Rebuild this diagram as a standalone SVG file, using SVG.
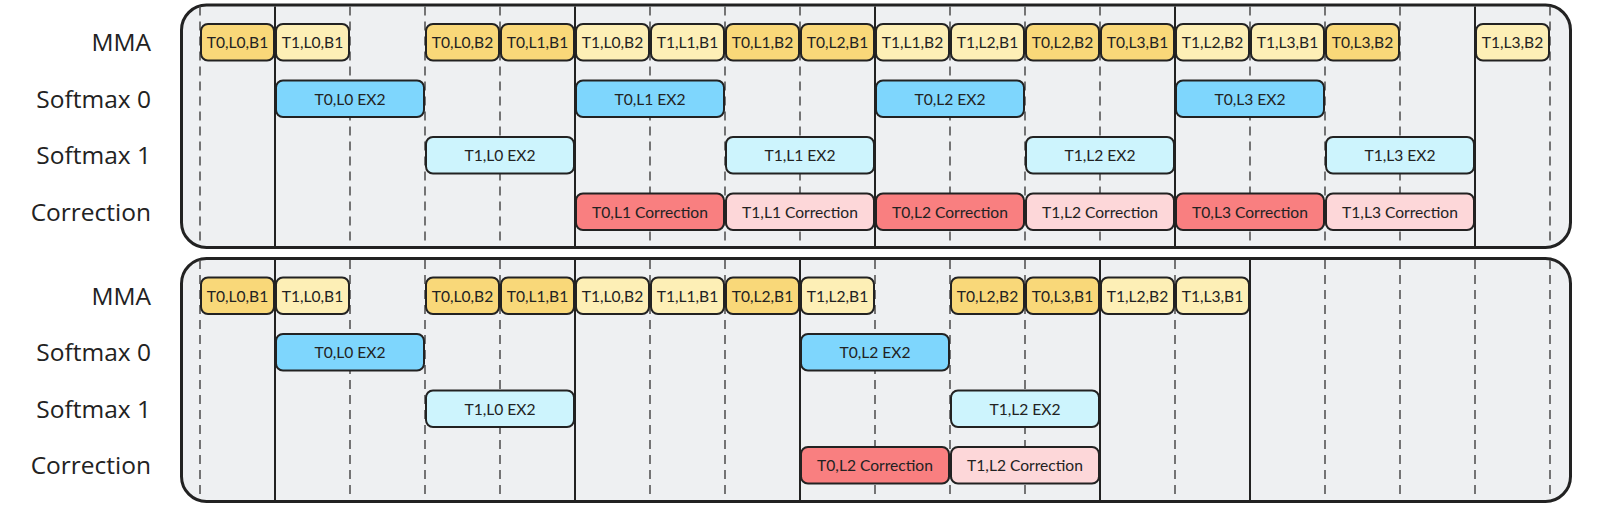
<svg xmlns="http://www.w3.org/2000/svg" width="1600" height="507" viewBox="0 0 1600 507">
<style>
.bg{fill:#ffffff}
.panel{fill:#EEF0F2;stroke:#222;stroke-width:3}
.dash{stroke:#555;stroke-width:1.6;stroke-dasharray:9 6}
.solid{stroke:#222;stroke-width:2}
.box{stroke:#222;stroke-width:2}
.m0{fill:#F9D879}.m1{fill:#FDEFB6}.s0{fill:#7ED6FD}.s1{fill:#CDF4FD}.c0{fill:#F97F80}.c1{fill:#FDD7D9}
.t{font-family:Lato,"Open Sans",sans-serif;font-size:15.6px;fill:#222;text-anchor:middle}
.lbl{font-family:"Open Sans",Lato,sans-serif;font-size:24.5px;fill:#222;text-anchor:end}
</style>
<rect class="bg" x="0" y="0" width="1600" height="507"/>
<g id="labels">
<text class="lbl" x="151" y="51">MMA</text>
<text class="lbl" x="151" y="107.5">Softmax 0</text>
<text class="lbl" x="151" y="164">Softmax 1</text>
<text class="lbl" x="151" y="220.5">Correction</text>
<text class="lbl" x="151" y="304.5">MMA</text>
<text class="lbl" x="151" y="361">Softmax 0</text>
<text class="lbl" x="151" y="417.5">Softmax 1</text>
<text class="lbl" x="151" y="474">Correction</text>
</g>
<g id="panel-top">
<rect class="panel" x="181.5" y="5" width="1389" height="242.5" rx="25"/>
</g>
<g id="panel-bottom">
<rect class="panel" x="181.5" y="258.5" width="1389" height="243" rx="25"/>
</g>
<g id="connectors">
<g id="grid-top">
<path class="dash" d="M200 6.5V246M350 6.5V246M425 6.5V246M500 6.5V246M650 6.5V246M725 6.5V246M800 6.5V246M950 6.5V246M1025 6.5V246M1100 6.5V246M1250 6.5V246M1325 6.5V246M1400 6.5V246M1550 6.5V246"/>
<path class="solid" d="M275 6.5V246M575 6.5V246M875 6.5V246M1175 6.5V246M1475 6.5V246"/>
</g>
<g id="grid-bottom">
<path class="dash" d="M200 260V500M350 260V500M425 260V500M500 260V500M650 260V500M725 260V500M875 260V500M950 260V500M1025 260V500M1175 260V500M1325 260V500M1400 260V500M1475 260V500M1550 260V500"/>
<path class="solid" d="M275 260V500M575 260V500M800 260V500M1100 260V500M1250 260V500"/>
</g>
</g>
<g id="top-mma">
<g id="t-mma-0"><rect class="box m0" x="201" y="24" width="73" height="36.5" rx="7"/><text class="t" x="237.5" y="48">T0,L0,B1</text></g>
<g id="t-mma-1"><rect class="box m1" x="276" y="24" width="73" height="36.5" rx="7"/><text class="t" x="312.5" y="48">T1,L0,B1</text></g>
<g id="t-mma-3"><rect class="box m0" x="426" y="24" width="73" height="36.5" rx="7"/><text class="t" x="462.5" y="48">T0,L0,B2</text></g>
<g id="t-mma-4"><rect class="box m0" x="501" y="24" width="73" height="36.5" rx="7"/><text class="t" x="537.5" y="48">T0,L1,B1</text></g>
<g id="t-mma-5"><rect class="box m1" x="576" y="24" width="73" height="36.5" rx="7"/><text class="t" x="612.5" y="48">T1,L0,B2</text></g>
<g id="t-mma-6"><rect class="box m1" x="651" y="24" width="73" height="36.5" rx="7"/><text class="t" x="687.5" y="48">T1,L1,B1</text></g>
<g id="t-mma-7"><rect class="box m0" x="726" y="24" width="73" height="36.5" rx="7"/><text class="t" x="762.5" y="48">T0,L1,B2</text></g>
<g id="t-mma-8"><rect class="box m0" x="801" y="24" width="73" height="36.5" rx="7"/><text class="t" x="837.5" y="48">T0,L2,B1</text></g>
<g id="t-mma-9"><rect class="box m1" x="876" y="24" width="73" height="36.5" rx="7"/><text class="t" x="912.5" y="48">T1,L1,B2</text></g>
<g id="t-mma-10"><rect class="box m1" x="951" y="24" width="73" height="36.5" rx="7"/><text class="t" x="987.5" y="48">T1,L2,B1</text></g>
<g id="t-mma-11"><rect class="box m0" x="1026" y="24" width="73" height="36.5" rx="7"/><text class="t" x="1062.5" y="48">T0,L2,B2</text></g>
<g id="t-mma-12"><rect class="box m0" x="1101" y="24" width="73" height="36.5" rx="7"/><text class="t" x="1137.5" y="48">T0,L3,B1</text></g>
<g id="t-mma-13"><rect class="box m1" x="1176" y="24" width="73" height="36.5" rx="7"/><text class="t" x="1212.5" y="48">T1,L2,B2</text></g>
<g id="t-mma-14"><rect class="box m1" x="1251" y="24" width="73" height="36.5" rx="7"/><text class="t" x="1287.5" y="48">T1,L3,B1</text></g>
<g id="t-mma-15"><rect class="box m0" x="1326" y="24" width="73" height="36.5" rx="7"/><text class="t" x="1362.5" y="48">T0,L3,B2</text></g>
<g id="t-mma-17"><rect class="box m1" x="1476" y="24" width="73" height="36.5" rx="7"/><text class="t" x="1512.5" y="48">T1,L3,B2</text></g>
</g>
<g id="top-softmax0">
<g id="t-s0-l0"><rect class="box s0" x="276" y="80.5" width="148" height="36.5" rx="7"/><text class="t" x="350" y="104.5">T0,L0 EX2</text></g>
<g id="t-s0-l1"><rect class="box s0" x="576" y="80.5" width="148" height="36.5" rx="7"/><text class="t" x="650" y="104.5">T0,L1 EX2</text></g>
<g id="t-s0-l2"><rect class="box s0" x="876" y="80.5" width="148" height="36.5" rx="7"/><text class="t" x="950" y="104.5">T0,L2 EX2</text></g>
<g id="t-s0-l3"><rect class="box s0" x="1176" y="80.5" width="148" height="36.5" rx="7"/><text class="t" x="1250" y="104.5">T0,L3 EX2</text></g>
</g>
<g id="top-softmax1">
<g id="t-s1-l0"><rect class="box s1" x="426" y="137" width="148" height="36.5" rx="7"/><text class="t" x="500" y="161">T1,L0 EX2</text></g>
<g id="t-s1-l1"><rect class="box s1" x="726" y="137" width="148" height="36.5" rx="7"/><text class="t" x="800" y="161">T1,L1 EX2</text></g>
<g id="t-s1-l2"><rect class="box s1" x="1026" y="137" width="148" height="36.5" rx="7"/><text class="t" x="1100" y="161">T1,L2 EX2</text></g>
<g id="t-s1-l3"><rect class="box s1" x="1326" y="137" width="148" height="36.5" rx="7"/><text class="t" x="1400" y="161">T1,L3 EX2</text></g>
</g>
<g id="top-correction">
<g id="t-c-t0l1"><rect class="box c0" x="576" y="193.5" width="148" height="36.5" rx="7"/><text class="t" x="650" y="217.5">T0,L1 Correction</text></g>
<g id="t-c-t1l1"><rect class="box c1" x="726" y="193.5" width="148" height="36.5" rx="7"/><text class="t" x="800" y="217.5">T1,L1 Correction</text></g>
<g id="t-c-t0l2"><rect class="box c0" x="876" y="193.5" width="148" height="36.5" rx="7"/><text class="t" x="950" y="217.5">T0,L2 Correction</text></g>
<g id="t-c-t1l2"><rect class="box c1" x="1026" y="193.5" width="148" height="36.5" rx="7"/><text class="t" x="1100" y="217.5">T1,L2 Correction</text></g>
<g id="t-c-t0l3"><rect class="box c0" x="1176" y="193.5" width="148" height="36.5" rx="7"/><text class="t" x="1250" y="217.5">T0,L3 Correction</text></g>
<g id="t-c-t1l3"><rect class="box c1" x="1326" y="193.5" width="148" height="36.5" rx="7"/><text class="t" x="1400" y="217.5">T1,L3 Correction</text></g>
</g>
<g id="bottom-mma">
<g id="b-mma-0"><rect class="box m0" x="201" y="277.5" width="73" height="36.5" rx="7"/><text class="t" x="237.5" y="301.5">T0,L0,B1</text></g>
<g id="b-mma-1"><rect class="box m1" x="276" y="277.5" width="73" height="36.5" rx="7"/><text class="t" x="312.5" y="301.5">T1,L0,B1</text></g>
<g id="b-mma-3"><rect class="box m0" x="426" y="277.5" width="73" height="36.5" rx="7"/><text class="t" x="462.5" y="301.5">T0,L0,B2</text></g>
<g id="b-mma-4"><rect class="box m0" x="501" y="277.5" width="73" height="36.5" rx="7"/><text class="t" x="537.5" y="301.5">T0,L1,B1</text></g>
<g id="b-mma-5"><rect class="box m1" x="576" y="277.5" width="73" height="36.5" rx="7"/><text class="t" x="612.5" y="301.5">T1,L0,B2</text></g>
<g id="b-mma-6"><rect class="box m1" x="651" y="277.5" width="73" height="36.5" rx="7"/><text class="t" x="687.5" y="301.5">T1,L1,B1</text></g>
<g id="b-mma-7"><rect class="box m0" x="726" y="277.5" width="73" height="36.5" rx="7"/><text class="t" x="762.5" y="301.5">T0,L2,B1</text></g>
<g id="b-mma-8"><rect class="box m1" x="801" y="277.5" width="73" height="36.5" rx="7"/><text class="t" x="837.5" y="301.5">T1,L2,B1</text></g>
<g id="b-mma-10"><rect class="box m0" x="951" y="277.5" width="73" height="36.5" rx="7"/><text class="t" x="987.5" y="301.5">T0,L2,B2</text></g>
<g id="b-mma-11"><rect class="box m0" x="1026" y="277.5" width="73" height="36.5" rx="7"/><text class="t" x="1062.5" y="301.5">T0,L3,B1</text></g>
<g id="b-mma-12"><rect class="box m1" x="1101" y="277.5" width="73" height="36.5" rx="7"/><text class="t" x="1137.5" y="301.5">T1,L2,B2</text></g>
<g id="b-mma-13"><rect class="box m1" x="1176" y="277.5" width="73" height="36.5" rx="7"/><text class="t" x="1212.5" y="301.5">T1,L3,B1</text></g>
</g>
<g id="bottom-softmax0">
<g id="b-s0-l0"><rect class="box s0" x="276" y="334" width="148" height="36.5" rx="7"/><text class="t" x="350" y="358">T0,L0 EX2</text></g>
<g id="b-s0-l2"><rect class="box s0" x="801" y="334" width="148" height="36.5" rx="7"/><text class="t" x="875" y="358">T0,L2 EX2</text></g>
</g>
<g id="bottom-softmax1">
<g id="b-s1-l0"><rect class="box s1" x="426" y="390.5" width="148" height="36.5" rx="7"/><text class="t" x="500" y="414.5">T1,L0 EX2</text></g>
<g id="b-s1-l2"><rect class="box s1" x="951" y="390.5" width="148" height="36.5" rx="7"/><text class="t" x="1025" y="414.5">T1,L2 EX2</text></g>
</g>
<g id="bottom-correction">
<g id="b-c-t0l2"><rect class="box c0" x="801" y="447" width="148" height="36.5" rx="7"/><text class="t" x="875" y="471">T0,L2 Correction</text></g>
<g id="b-c-t1l2"><rect class="box c1" x="951" y="447" width="148" height="36.5" rx="7"/><text class="t" x="1025" y="471">T1,L2 Correction</text></g>
</g>
</svg>
